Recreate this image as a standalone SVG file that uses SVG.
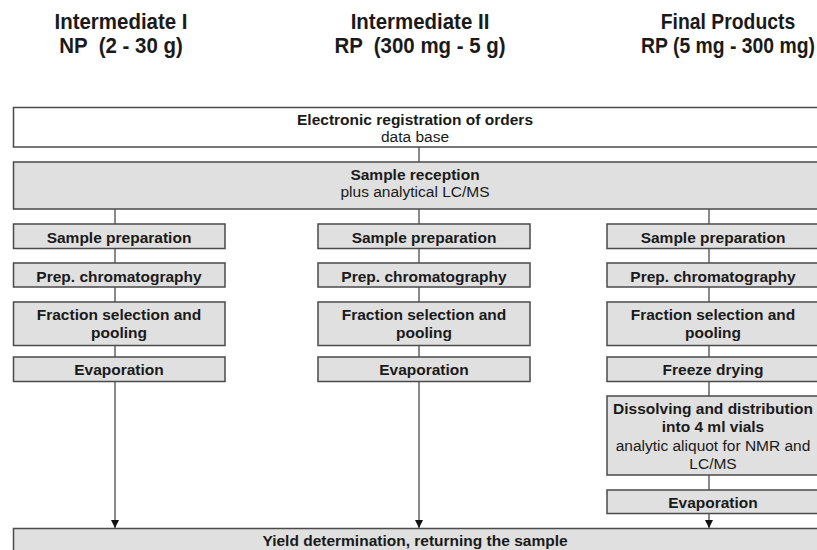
<svg xmlns="http://www.w3.org/2000/svg" width="817" height="550" viewBox="0 0 817 550">
<style>
  text { font-family: "Liberation Sans", Arial, sans-serif; fill: #1a1a1a; text-anchor: middle; }
  .h { font-size: 22px; font-weight: bold; }
  .b { font-size: 15.5px; font-weight: bold; }
  .r { font-size: 15.5px; }
  .box { fill: #e0e0e0; stroke: #4a4a4a; stroke-width: 1.5; }
  .wbox { fill: #ffffff; stroke: #4a4a4a; stroke-width: 1.5; }
  .ln { stroke: #4a4a4a; stroke-width: 1.3; fill: none; }
</style>
<defs>
  <marker id="arr" viewBox="0 0 8 10" refX="8" refY="5" markerWidth="8" markerHeight="10" markerUnits="userSpaceOnUse" orient="auto">
    <path d="M0,1 L8,5 L0,9 Z" fill="#111"/>
  </marker>
</defs>
<rect width="817" height="550" fill="#ffffff"/>

<g id="headers">
  <g transform="translate(121,0) scale(0.93,1)">
    <text class="h" x="0" y="29">Intermediate I</text>
    <text class="h" x="0" y="53" xml:space="preserve">NP  (2 - 30 g)</text>
  </g>
  <g transform="translate(420,0) scale(0.93,1)">
    <text class="h" x="0" y="29">Intermediate II</text>
    <text class="h" x="0" y="53" xml:space="preserve">RP  (300 mg - 5 g)</text>
  </g>
  <g transform="translate(728,0) scale(0.88,1)">
    <text class="h" x="0" y="29">Final Products</text>
    <text class="h" x="0" y="53">RP (5 mg - 300 mg)</text>
  </g>
</g>

<g id="connectors">
  <line class="ln" x1="419" y1="147" x2="419" y2="162"/>
  <line class="ln" x1="115" y1="209" x2="115" y2="224"/>
  <line class="ln" x1="419" y1="209" x2="419" y2="224"/>
  <line class="ln" x1="709" y1="209" x2="709" y2="224"/>
  <line class="ln" x1="115" y1="248" x2="115" y2="263"/>
  <line class="ln" x1="419" y1="248" x2="419" y2="263"/>
  <line class="ln" x1="709" y1="248" x2="709" y2="263"/>
  <line class="ln" x1="115" y1="287" x2="115" y2="302"/>
  <line class="ln" x1="419" y1="287" x2="419" y2="302"/>
  <line class="ln" x1="709" y1="287" x2="709" y2="302"/>
  <line class="ln" x1="115" y1="345" x2="115" y2="357"/>
  <line class="ln" x1="419" y1="345" x2="419" y2="357"/>
  <line class="ln" x1="709" y1="345" x2="709" y2="357"/>
  <line class="ln" x1="709" y1="381" x2="709" y2="396"/>
  <line class="ln" x1="709" y1="475" x2="709" y2="490"/>
  <line class="ln" x1="115" y1="381" x2="115" y2="528" marker-end="url(#arr)"/>
  <line class="ln" x1="419" y1="381" x2="419" y2="528" marker-end="url(#arr)"/>
  <line class="ln" x1="709" y1="513" x2="709" y2="528" marker-end="url(#arr)"/>
</g>

<g id="registration">
  <rect class="wbox" x="13.5" y="107.5" width="806" height="39.5"/>
  <text class="b" x="415" y="125">Electronic registration of orders</text>
  <text class="r" x="415" y="142">data base</text>
</g>

<g id="reception">
  <rect class="box" x="13.5" y="162" width="806" height="47"/>
  <text class="b" x="415" y="180">Sample reception</text>
  <text class="r" x="415" y="197">plus analytical LC/MS</text>
</g>

<g id="prep1">
  <rect class="box" x="13.5" y="224" width="211.5" height="24.5"/>
  <text class="b" x="119" y="242.5">Sample preparation</text>
</g>
<g id="chrom1">
  <rect class="box" x="13.5" y="263" width="211.5" height="24"/>
  <text class="b" x="119" y="281.5">Prep. chromatography</text>
</g>
<g id="frac1">
  <rect class="box" x="13.5" y="302" width="211.5" height="43.5"/>
  <text class="b" x="119" y="320">Fraction selection and</text>
  <text class="b" x="119" y="338">pooling</text>
</g>
<g id="evap1">
  <rect class="box" x="13.5" y="357" width="211.5" height="24.5"/>
  <text class="b" x="119" y="375">Evaporation</text>
</g>

<g id="prep2">
  <rect class="box" x="318" y="224" width="212" height="24.5"/>
  <text class="b" x="424" y="242.5">Sample preparation</text>
</g>
<g id="chrom2">
  <rect class="box" x="318" y="263" width="212" height="24"/>
  <text class="b" x="424" y="281.5">Prep. chromatography</text>
</g>
<g id="frac2">
  <rect class="box" x="318" y="302" width="212" height="43.5"/>
  <text class="b" x="424" y="320">Fraction selection and</text>
  <text class="b" x="424" y="338">pooling</text>
</g>
<g id="evap2">
  <rect class="box" x="318" y="357" width="212" height="24.5"/>
  <text class="b" x="424" y="375">Evaporation</text>
</g>

<g id="prep3">
  <rect class="box" x="607" y="224" width="213" height="24.5"/>
  <text class="b" x="713" y="242.5">Sample preparation</text>
</g>
<g id="chrom3">
  <rect class="box" x="607" y="263" width="213" height="24"/>
  <text class="b" x="713" y="281.5">Prep. chromatography</text>
</g>
<g id="frac3">
  <rect class="box" x="607" y="302" width="213" height="43.5"/>
  <text class="b" x="713" y="320">Fraction selection and</text>
  <text class="b" x="713" y="338">pooling</text>
</g>
<g id="freeze3">
  <rect class="box" x="607" y="357" width="213" height="24.5"/>
  <text class="b" x="713" y="375">Freeze drying</text>
</g>
<g id="dissolve3">
  <rect class="box" x="607" y="396" width="213" height="79"/>
  <text class="b" x="713" y="414">Dissolving and distribution</text>
  <text class="b" x="713" y="432">into 4 ml vials</text>
  <text class="r" x="713" y="451">analytic aliquot for NMR and</text>
  <text class="r" x="713" y="469">LC/MS</text>
</g>
<g id="evap3">
  <rect class="box" x="607" y="490" width="213" height="23.5"/>
  <text class="b" x="713" y="507.5">Evaporation</text>
</g>

<g id="yield">
  <rect class="box" x="13.5" y="528.5" width="806" height="30"/>
  <text class="b" x="415" y="546">Yield determination, returning the sample</text>
</g>
</svg>
